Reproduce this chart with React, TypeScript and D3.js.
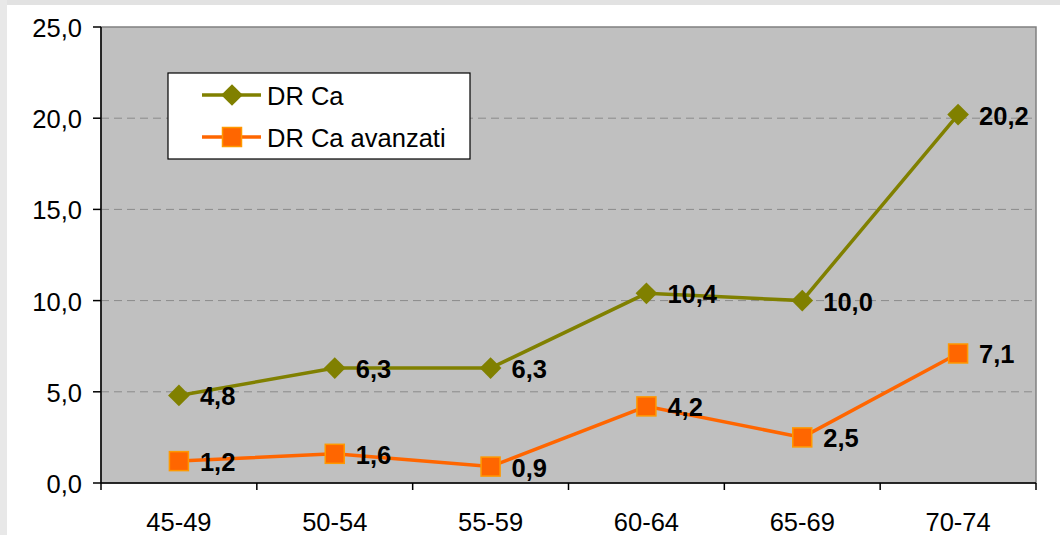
import React from "react";
import * as d3 from "d3";

const categories = ["45-49", "50-54", "55-59", "60-64", "65-69", "70-74"];
const drCa = [4.8, 6.3, 6.3, 10.4, 10.0, 20.2];
const drCaAvanzati = [1.2, 1.6, 0.9, 4.2, 2.5, 7.1];
const yTicks = [0, 5, 10, 15, 20, 25];

const W = 1060;
const H = 535;
const plot = { left: 101, top: 27, right: 1036, bottom: 483 };
const font = "Arial, 'Liberation Sans', sans-serif";
const fs = 25.5;

const fmt = (v: number) => d3.format(".1f")(v).replace(".", ",");

export default function App() {
  const x = d3
    .scaleBand<string>()
    .domain(categories)
    .range([plot.left, plot.right])
    .padding(0);
  const cx = (c: string) => (x(c) as number) + x.bandwidth() / 2;
  const y = d3.scaleLinear().domain([0, 25]).range([plot.bottom, plot.top]);

  const line = d3
    .line<number>()
    .x((_, i) => cx(categories[i]))
    .y((d) => y(d));

  const diamond = d3.symbol().type(d3.symbolDiamond2).size(300)();

  const series = [
    { name: "DR Ca", values: drCa, color: "#808000", marker: "diamond" },
    { name: "DR Ca avanzati", values: drCaAvanzati, color: "#FF6600", marker: "square" },
  ];

  const marker = (kind: string, px: number, py: number, color: string, key: string) =>
    kind === "diamond" ? (
      <path key={key} d={diamond as string} transform={`translate(${px},${py})`} fill={color} />
    ) : (
      <rect
        key={key}
        x={px - 9.5}
        y={py - 9.5}
        width={19}
        height={19}
        fill="#FF6600"
        stroke="#FF9900"
        strokeWidth={1.5}
      />
    );

  return (
    <svg
      width={W}
      height={H}
      style={{ position: "absolute", left: 0, top: 0, fontFamily: font }}
    >
      <rect x={0} y={0} width={W} height={H} fill="#ffffff" />
      <rect x={0} y={0} width={W} height={5} fill="#e2e2e2" />
      <rect x={0} y={0} width={7} height={H} fill="#e8e8e8" />

      {/* plot area */}
      <rect
        x={plot.left}
        y={plot.top}
        width={plot.right - plot.left}
        height={plot.bottom - plot.top}
        fill="#C0C0C0"
        stroke="#808080"
        strokeWidth={1.5}
      />

      {/* gridlines */}
      {yTicks.slice(1, -1).map((t) => (
        <line
          key={`g${t}`}
          x1={plot.left}
          x2={plot.right}
          y1={y(t)}
          y2={y(t)}
          stroke="#8a8a8a"
          strokeWidth={1}
          strokeDasharray="8,5"
        />
      ))}

      {/* y axis */}
      <line x1={plot.left} x2={plot.left} y1={plot.top} y2={plot.bottom} stroke="#000" strokeWidth={1.5} />
      {yTicks.map((t) => (
        <g key={`y${t}`}>
          <line x1={plot.left - 8} x2={plot.left} y1={y(t)} y2={y(t)} stroke="#000" strokeWidth={1.5} />
          <text
            x={82}
            y={y(t) + 1}
            textAnchor="end"
            dominantBaseline="central"
            fontSize={fs}
            fill="#000"
          >
            {fmt(t)}
          </text>
        </g>
      ))}

      {/* x axis */}
      <line x1={plot.left} x2={plot.right} y1={plot.bottom} y2={plot.bottom} stroke="#000" strokeWidth={1.5} />
      {[...categories.map((c) => x(c) as number), plot.right].map((xv, i) => (
        <line
          key={`xt${i}`}
          x1={xv}
          x2={xv}
          y1={plot.bottom}
          y2={plot.bottom + 7}
          stroke="#000"
          strokeWidth={1.5}
        />
      ))}
      {categories.map((c) => (
        <text key={`xl${c}`} x={cx(c)} y={531} textAnchor="middle" fontSize={fs} fill="#000">
          {c}
        </text>
      ))}

      {/* series */}
      {series.map((s) => (
        <g key={s.name}>
          <path d={line(s.values) as string} fill="none" stroke={s.color} strokeWidth={3.5} />
          {s.values.map((v, i) => marker(s.marker, cx(categories[i]), y(v), s.color, `${s.name}${i}`))}
          {s.values.map((v, i) => (
            <text
              key={`l${s.name}${i}`}
              x={cx(categories[i]) + 21}
              y={y(v) + 1}
              dominantBaseline="central"
              fontSize={fs}
              fontWeight="bold"
              fill="#000"
            >
              {fmt(v)}
            </text>
          ))}
        </g>
      ))}

      {/* legend */}
      <rect x={168} y={73} width={302} height={86} fill="#fff" stroke="#000" strokeWidth={1.2} />
      {series.map((s, i) => {
        const ly = 95 + i * 42;
        return (
          <g key={`lg${s.name}`}>
            <line x1={202} x2={261} y1={ly} y2={ly} stroke={s.color} strokeWidth={3.5} />
            {marker(s.marker, 232, ly, s.color, `lm${i}`)}
            <text x={267} y={ly + 1} dominantBaseline="central" fontSize={fs} fill="#000">
              {s.name}
            </text>
          </g>
        );
      })}
    </svg>
  );
}
